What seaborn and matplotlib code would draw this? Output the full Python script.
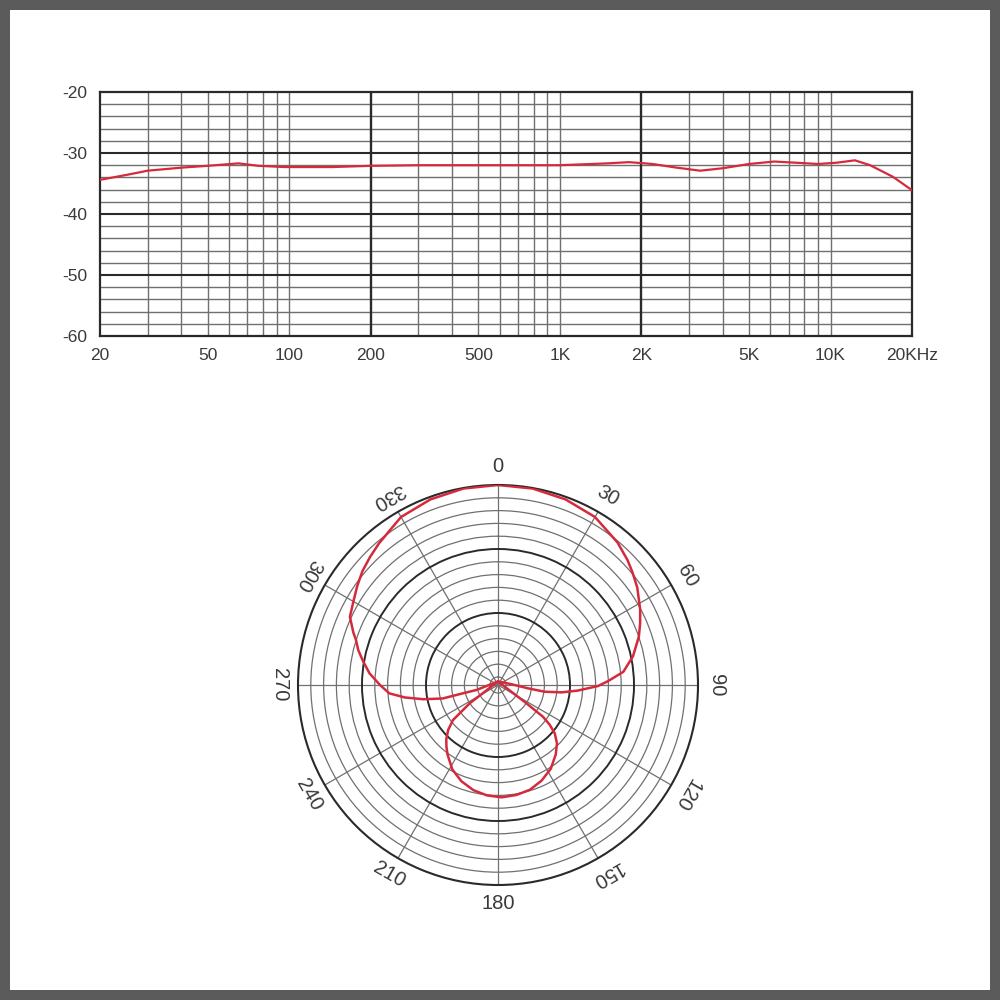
import numpy as np
import pandas as pd
import matplotlib
matplotlib.use('Agg')
import matplotlib.pyplot as plt
from matplotlib.patches import Rectangle
from matplotlib.ticker import NullLocator
import seaborn as sns

# frequency response (Hz, dB)
freq_hz = [20, 25, 30, 40, 50, 65, 77, 96, 145, 200, 300, 500, 1000, 1500, 1800,
           2200, 2700, 3300, 4000, 5000, 6200, 7500, 9000, 10500, 12300, 14000,
           17000, 20000]
level_db = [-34.4, -33.6, -32.9, -32.4, -32.1, -31.7, -32.1, -32.3, -32.3, -32.1,
            -32.0, -32.0, -32.0, -31.7, -31.5, -31.8, -32.4, -32.9, -32.5, -31.8,
            -31.4, -31.6, -31.8, -31.6, -31.2, -32.0, -33.9, -36.1]

freq_ticks = [20, 50, 100, 200, 500, 1000, 2000, 5000, 10000, 20000]
freq_labels = ['20', '50', '100', '200', '500', '1K', '2K', '5K', '10K', '20KHz']

# polar pattern traced in drawing order (degrees, dB); the lobes meet just off centre
front_right_deg = [0, 10, 20, 30, 40, 46, 50, 55, 62, 66.5, 71, 78, 84, 88, 90.6,
                   94, 96.6, 98.2, 96.3, 86, 0]
front_right_db = [0.0, -0.08, -0.39, -0.94, -2.19, -3.13, -3.83, -4.69, -6.09,
                  -7.03, -7.97, -9.69, -11.56, -14.06, -15.63, -18.75, -21.25,
                  -23.91, -26.56, -29.22, -30.7]
rear_deg = [122.8, 125.2, 127.5, 130.4, 134.7, 140.3, 147.8, 155.4, 163, 170.5,
            178.1, 185.7, 193.2, 200.8, 208.4, 215.9, 219.9, 223.6, 228, 232.1,
            237.1, 360]
rear_db = [-25.97, -22.66, -21.09, -19.61, -18.28, -17.13, -15.78, -14.84, -14.14,
           -13.83, -13.69, -13.91, -14.38, -15.16, -16.25, -17.81, -18.69, -19.53,
           -20.78, -22.34, -25.98, -30.7]
front_left_deg = [257, 256.7, 256.3, 259.2, 262.4, 265.6, 270, 275.2, 280, 284,
                  287.6, 290, 294.7, 300, 305, 310, 315, 320, 330, 340, 350, 360]
front_left_db = [-27.81, -25.63, -22.36, -19.38, -16.55, -14.22, -12.81, -11.09,
                 -9.84, -8.75, -7.97, -7.19, -5.78, -5.16, -4.38, -3.59, -2.97,
                 -2.34, -0.94, -0.39, -0.08, 0.0]
polar_angles = list(range(0, 360, 30))

red = '#d42a3c'
dark = '#2a2a2a'
light = '#707070'
txt = '#3a3a3a'

sns.set_theme(style='white')
plt.rcParams['font.family'] = ['Liberation Sans', 'DejaVu Sans']
plt.rcParams['axes.unicode_minus'] = False

fig = plt.figure(figsize=(10, 10), dpi=100)
fig.patch.set_facecolor('#5b5b5b')
fig.add_artist(Rectangle((0.01, 0.01), 0.98, 0.98, transform=fig.transFigure,
                         facecolor='white', edgecolor='none', zorder=-5))

# ---- frequency response ----
ax1 = fig.add_axes([0.100, 0.664, 0.812, 0.244])
ax1.set_facecolor('white')
df = pd.DataFrame({'freq': freq_hz, 'level': level_db})
ax1.set_xscale('log')
for decade in [10, 100, 1000]:
    for k in range(3, 11):
        ax1.axvline(decade * k, color=light, lw=1.0, zorder=1)
for f in [200, 2000]:
    ax1.axvline(f, color=dark, lw=1.7, zorder=2)
for y in range(-58, -20, 2):
    if y % 10:
        ax1.axhline(y, color=light, lw=1.0, zorder=1)
    else:
        ax1.axhline(y, color=dark, lw=1.5, zorder=2)
sns.lineplot(data=df, x='freq', y='level', ax=ax1, color=red, lw=1.6, zorder=3)
ax1.set_xlim(20, 20000)
ax1.set_ylim(-60, -20)
ax1.set_xticks(freq_ticks)
ax1.set_xticklabels(freq_labels)
ax1.xaxis.set_minor_locator(NullLocator())
ax1.set_yticks(range(-60, -19, 10))
ax1.tick_params(length=0, pad=9, labelsize=12.5, colors=txt)
ax1.set_xlabel('')
ax1.set_ylabel('')
for s in ax1.spines.values():
    s.set_color(dark)
    s.set_linewidth(1.6)

# ---- polar pattern ----
ax2 = fig.add_axes([0.298, 0.115, 0.4, 0.4], projection='polar')
ax2.set_facecolor('white')
ax2.set_theta_zero_location('N')
ax2.set_theta_direction(-1)
pdf = pd.DataFrame({
    'theta': np.deg2rad(front_right_deg + rear_deg + front_left_deg),
    'db': front_right_db + rear_db + front_left_db,
})
sns.lineplot(data=pdf, x='theta', y='db', ax=ax2, sort=False, estimator=None,
             color=red, lw=1.8, zorder=3)
ax2.set_rlim(-31.25, 0)
ax2.set_yticks(list(range(-30, 0, 2)))
ax2.set_yticklabels([])
ax2.set_xticks(np.deg2rad(polar_angles))
ax2.set_xticklabels([])
ax2.grid(True)
for r, gl in zip(range(-30, 0, 2), ax2.yaxis.get_gridlines()):
    if r in (-20, -10):
        gl.set_color(dark)
        gl.set_linewidth(1.4)
    else:
        gl.set_color(light)
        gl.set_linewidth(0.9)
for gl in ax2.xaxis.get_gridlines():
    gl.set_color(light)
    gl.set_linewidth(0.9)
ax2.spines['polar'].set_color(dark)
ax2.spines['polar'].set_linewidth(1.5)
ax2.set_xlabel('')
ax2.set_ylabel('')
for a in polar_angles:
    rot = -a if a < 180 else 180 - a
    ax2.text(np.deg2rad(a), 2.9, str(a), rotation=rot, ha='center', va='center',
             fontsize=14.5, color=txt)

fig.savefig('out.png', dpi=100, facecolor=fig.get_facecolor())
